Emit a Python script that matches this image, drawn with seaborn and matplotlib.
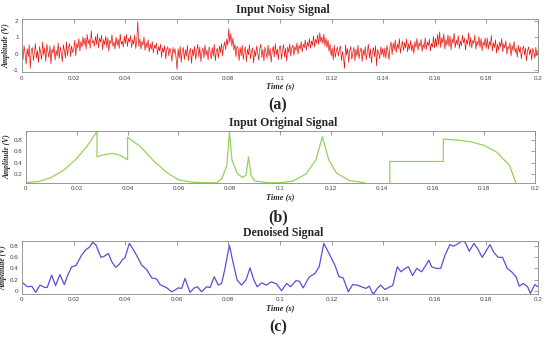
import numpy as np
import pandas as pd
import matplotlib
matplotlib.use('Agg')
import matplotlib.pyplot as plt
import seaborn as sns

# noisy input, 500 samples over 0..0.2 s
noisy_amp = [
    0.12, -0.35, 0.48, 0.02, -0.62, 0.31, -0.18, 0.55, -0.88, 0.25,
    0.38, -0.41, 0.08, 0.62, -0.27, 0.19, -0.52, 0.44, 0.05, -0.33,
    0.71, -0.08, 0.36, -0.45, 0.58, 0.14, -0.22, 0.47, -0.61, 0.29,
    0.03, 0.52, -0.38, 0.21, -0.14, 0.66, -0.29, 0.41, 0.07, -0.48,
    0.55, 0.18, -0.25, 0.73, -0.11, 0.39, 0.62, -0.17, 0.48, 0.08,
    0.22, 0.81, -0.12, 0.63, 0.35, 0.92, 0.18, 0.74, 0.41, 1.02,
    0.52, 0.95, 0.28, 1.18, 0.61, 0.88, 0.33, 1.38, 0.67, 0.79,
    0.45, 1.05, 0.58, 1.22, 0.36, 0.94, 0.71, 1.12, 0.25, 0.86,
    0.55, 1.08, 0.39, 0.97, 0.15, 0.82, 0.62, 1.15, 0.44, 0.73,
    0.28, 1.01, 0.51, 0.89, 0.32, 1.19, 0.58, 0.77, 0.41, 1.06,
    0.62, 1.18, 0.45, 0.92, 0.71, 1.09, 0.38, 0.85, 0.58, 1.14,
    0.32, 0.79, 1.96, 0.44, 0.91, 0.28, 0.76, 0.52, 1.02, 0.21,
    0.68, 0.37, 0.85, 0.12, 0.61, 0.27, 0.74, 0.05, 0.52, 0.33,
    0.64, -0.05, 0.43, 0.18, 0.58, -0.22, 0.36, 0.09, 0.49, -0.31,
    0.28, 0.42, -0.12, 0.35, 0.11, -0.45, 0.39, 0.02, 0.31, -0.24,
    -0.95, 0.31, -0.28, 0.45, -0.52, 0.18, 0.38, -0.36, 0.24, -0.15,
    0.51, -0.42, 0.09, 0.33, -0.58, 0.27, -0.11, 0.46, -0.34, 0.15,
    0.58, -0.20, 0.41, -0.47, 0.12, 0.36, -0.25, 0.53, -0.09, 0.22,
    -0.38, 0.44, 0.06, -0.31, 0.39, -0.14, 0.57, -0.42, 0.19, 0.33,
    -0.26, 0.48, 0.07, 0.62, -0.12, 0.41, 0.72, 0.25, 0.88, 0.52,
    1.52, 0.68, 1.21, 0.45, 0.95, 0.22, 0.58, -0.18, 0.45, 0.31,
    -0.41, 0.39, -0.12, 0.52, -0.35, 0.16, 0.43, -0.48, 0.28, -0.07,
    0.55, -0.29, 0.12, 0.37, -0.55, 0.21, -0.16, 0.47, 0.03, -0.38,
    0.34, 0.58, -0.22, 0.26, -0.44, 0.41, 0.09, -0.27, 0.53, -0.13,
    0.32, -0.51, 0.18, 0.45, -0.19, 0.61, -0.06, 0.29, -0.36, 0.42,
    0.48, -0.32, 0.25, 0.56, -0.21, 0.34, -0.44, 0.42, 0.08, 0.61,
    -0.15, 0.37, 0.52, -0.09, 0.45, 0.19, 0.66, -0.02, 0.51, 0.28,
    0.73, 0.11, 0.58, 0.36, 0.84, 0.22, 0.69, 0.45, 0.91, 0.33,
    0.77, 0.52, 1.08, 0.41, 0.88, 0.64, 1.15, 0.56, 1.28, 0.71,
    1.02, 0.62, 1.19, 0.48, 0.95, 0.38, 0.82, 0.15, 0.58, -0.12,
    0.35, -0.38, 0.52, -0.22, 0.18, 0.41, -0.15, 0.29, 0.47, -0.41,
    0.13, -0.26, -0.88, 0.55, -0.08, 0.32, -0.52, 0.21, 0.44, -0.33,
    0.06, 0.39, -0.42, 0.28, -0.14, 0.51, -0.29, 0.17, 0.36, -0.47,
    0.24, -0.11, 0.43, -0.36, 0.09, 0.58, -0.24, 0.31, -0.55, 0.15,
    0.38, -0.18, 0.49, -0.72, 0.27, 0.04, -0.31, 0.42, -0.06, 0.33,
    -0.21, 0.36, -0.28, 0.51, 0.12, -0.35, 0.44, 0.72, -0.05, 0.65,
    0.22, 0.84, 0.08, 0.58, 0.31, 0.92, 0.04, 0.47, 0.76, 0.19,
    0.68, 0.35, 0.89, 0.11, 0.62, 0.28, 0.81, 0.17, 0.55, 0.02,
    0.74, 0.39, 0.93, 0.21, 0.66, 0.45, 0.86, 0.14, 0.59, 0.32,
    0.97, 0.26, 0.71, 0.48, 0.88, 0.18, 0.63, 0.41, 1.05, 0.35,
    0.95, 0.42, 1.18, 0.55, 1.32, 0.38, 0.98, 0.66, 1.21, 0.29,
    0.87, 0.51, 1.15, 0.44, 1.06, 0.25, 0.91, 0.62, 1.24, 0.37,
    0.83, 0.55, 1.09, 0.31, 0.78, 0.48, 1.12, 0.66, 0.94, 0.22,
    0.85, 0.57, 1.27, 0.43, 0.99, 0.35, 0.81, 0.64, 1.13, 0.28,
    0.76, 0.52, 1.04, 0.39, 0.92, 0.18, 0.71, 0.47, 0.96, 0.33,
    0.96, 0.27, 0.74, 0.48, 1.12, 0.18, 0.66, 0.39, 0.85, 0.05,
    0.58, 0.22, 0.71, 0.41, 0.93, 0.12, 0.62, 0.34, 0.79, -0.02,
    0.45, 0.28, 0.67, -0.14, 0.51, 0.19, 0.74, 0.08, 0.36, -0.21,
    0.52, 0.09, 0.41, -0.31, 0.28, 0.47, -0.08, 0.36, -0.42, 0.22,
    0.41, -0.05, 0.27, -0.38, 0.33, 0.11, -0.26, 0.39, -0.12, 0.18,
]
noisy_t = np.linspace(0, 0.2, len(noisy_amp))

# original signal breakpoints
orig_t = [0, 0.005, 0.01, 0.015, 0.02, 0.024, 0.028,
          0.028, 0.03, 0.034, 0.037, 0.04,
          0.04, 0.045, 0.05, 0.055, 0.06, 0.065, 0.07, 0.075,
          0.077, 0.079, 0.08, 0.081, 0.083, 0.085, 0.0865, 0.0875, 0.0885, 0.09, 0.095,
          0.1, 0.105, 0.11, 0.114, 0.1165, 0.119, 0.122, 0.127, 0.133,
          0.1335, 0.143, 0.143, 0.164, 0.164, 0.17, 0.175, 0.18, 0.185, 0.19, 0.1925, 0.193, 0.2]
orig_amp = [0.05, 0.07, 0.14, 0.27, 0.47, 0.68, 0.94,
            0.50, 0.53, 0.56, 0.53, 0.45,
            0.84, 0.68, 0.44, 0.24, 0.10, 0.06, 0.05, 0.05,
            0.12, 0.35, 0.93, 0.45, 0.22, 0.14, 0.18, 0.50, 0.18, 0.08, 0.05,
            0.05, 0.08, 0.20, 0.45, 0.85, 0.45, 0.22, 0.09, 0.05,
            0.0, 0.0, 0.42, 0.42, 0.81, 0.79, 0.76, 0.70, 0.58, 0.35, 0.05, 0.0, 0.0]

# denoised output
den_t = [0, 0.0018, 0.0027, 0.0038, 0.0053, 0.007, 0.0089, 0.0098, 0.0115, 0.013, 0.0147, 0.0164,
         0.018, 0.0193, 0.0209, 0.0231, 0.0248, 0.0261, 0.0274, 0.0287, 0.0306, 0.0319, 0.0335,
         0.0348, 0.0363, 0.0376, 0.039, 0.0399, 0.0416, 0.0425, 0.0444, 0.0464, 0.0483, 0.0503,
         0.0522, 0.0535, 0.0548, 0.056, 0.058, 0.0593, 0.0606, 0.0619, 0.0632, 0.0651, 0.0668,
         0.068, 0.0696, 0.0716, 0.0729, 0.0745, 0.0761, 0.0774, 0.0787, 0.0804, 0.0819, 0.0834,
         0.0851, 0.0868, 0.0884, 0.0899, 0.0912, 0.0929, 0.0948, 0.0967, 0.0987, 0.1006, 0.1026,
         0.1041, 0.1062, 0.1075, 0.109, 0.1114, 0.1136, 0.1152, 0.117, 0.1187, 0.1213, 0.1229,
         0.1245, 0.1265, 0.1282, 0.13, 0.1316, 0.1333, 0.1346, 0.1362, 0.1377, 0.139, 0.1407,
         0.1426, 0.1437, 0.1455, 0.1469, 0.1485, 0.1498, 0.1514, 0.153, 0.1549, 0.1566, 0.1577,
         0.1588, 0.1607, 0.1623, 0.164, 0.1659, 0.1672, 0.1685, 0.1704, 0.1717, 0.1734, 0.1752,
         0.1766, 0.1784, 0.1801, 0.1814, 0.1829, 0.1846, 0.1863, 0.1881, 0.1898, 0.1915, 0.1928,
         0.1943, 0.196, 0.1971, 0.1988, 0.2]
den_amp = [0.15, 0.08, 0.07, 0.08, -0.03, 0.10, 0.055, 0.06, 0.28, 0.09, 0.29, 0.11,
           0.31, 0.43, 0.45, 0.64, 0.74, 0.78, 0.87, 0.82, 0.60, 0.62, 0.67,
           0.52, 0.42, 0.47, 0.56, 0.59, 0.85, 0.79, 0.64, 0.46, 0.38, 0.23,
           0.21, 0.11, 0.08, 0.055, -0.02, 0.01, 0.05, 0.04, 0.22, -0.03, 0.05,
           0.07, -0.02, 0.07, 0.055, 0.25, 0.10, 0.13, 0.40, 0.82, 0.49, 0.19,
           0.10, 0.19, 0.41, 0.19, 0.07, 0.14, 0.10, 0.16, 0.12, 0.0, 0.13,
           0.07, 0.18, 0.17, 0.05, 0.25, 0.31, 0.43, 0.85, 0.70, 0.46, 0.25,
           0.23, -0.02, 0.11, 0.10, 0.07, 0.04, 0.08, -0.07, 0.04, 0.10, 0.02,
           0.07, 0.09, 0.43, 0.34, 0.40, 0.43, 0.27, 0.40, 0.34, 0.46, 0.55,
           0.43, 0.40, 0.40, 0.64, 0.83, 0.80, 0.83, 0.89, 0.88, 0.71, 0.85,
           0.76, 0.60, 0.73, 0.83, 0.69, 0.60, 0.60, 0.40, 0.34, 0.25, 0.08,
           0.13, 0.07, -0.05, 0.11, 0.07]

x_ticks = [0, 0.02, 0.04, 0.06, 0.08, 0.1, 0.12, 0.14, 0.16, 0.18, 0.2]
x_ticklabels = ['0', '0.02', '0.04', '0.06', '0.08', '0.1', '0.12', '0.14', '0.16', '0.18', '0.2']

sns.set_style('white')
plt.rcParams['font.family'] = ['Liberation Serif', 'DejaVu Serif']

fig = plt.figure(figsize=(5.5, 3.43), dpi=100)

panels = [
    dict(rect=[0.040, 0.790, 0.938, 0.1545], t=noisy_t, y=noisy_amp, color='#e8120c', lw=0.5,
         ylim=(-1.1, 2.1), yticks=[-1, 0, 1, 2], yticklabels=['-1', '0', '1', '2'],
         title='Input Noisy Signal', title_y=0.970, tag='(a)', tag_y=0.693),
    dict(rect=[0.0467, 0.4665, 0.926, 0.1516], t=orig_t, y=orig_amp, color='#93d35a', lw=0.9,
         ylim=(0.045, 0.95), yticks=[0.2, 0.4, 0.6, 0.8], yticklabels=['0.2', '0.4', '0.6', '0.8'],
         title='Input Original Signal', title_y=0.641, tag='(b)', tag_y=0.367),
    dict(rect=[0.040, 0.1429, 0.938, 0.1554], t=den_t, y=den_amp, color='#5a4fd6', lw=0.9,
         ylim=(-0.06, 0.9), yticks=[0, 0.2, 0.4, 0.6, 0.8], yticklabels=['0', '0.2', '0.4', '0.6', '0.8'],
         title='Denoised Signal', title_y=0.321, tag='(c)', tag_y=0.045),
]

for p in panels:
    ax = fig.add_axes(p['rect'])
    df = pd.DataFrame({'time': p['t'], 'amp': p['y']})
    sns.lineplot(data=df, x='time', y='amp', ax=ax, color=p['color'], linewidth=p['lw'],
                 estimator=None, sort=False)
    ax.set_xlim(0, 0.2)
    ax.set_ylim(*p['ylim'])
    ax.set_xticks(x_ticks)
    ax.set_xticklabels(x_ticklabels, fontsize=4.5, family='Liberation Sans')
    ax.set_yticks(p['yticks'])
    ax.set_yticklabels(p['yticklabels'], fontsize=4.5, family='Liberation Sans')
    ax.tick_params(direction='in', length=3, width=0.5, color='#777777', pad=2.5,
                   top=True, right=True, labelcolor='#444444')
    for s in ax.spines.values():
        s.set_color('#888888')
        s.set_linewidth(0.6)
    ax.set_xlabel('Time (s)', fontsize=6, style='italic', weight='bold', labelpad=1.5)
    ax.set_ylabel('Amplitude (V)', fontsize=5.5, style='italic', weight='bold', labelpad=1.5)
    fig.text(0.515, p['title_y'], p['title'], ha='center', va='center', fontsize=8.5, weight='bold')
    fig.text(0.505, p['tag_y'], p['tag'], ha='center', va='center', fontsize=11.5, weight='bold')

fig.savefig('out.png', dpi=100)
